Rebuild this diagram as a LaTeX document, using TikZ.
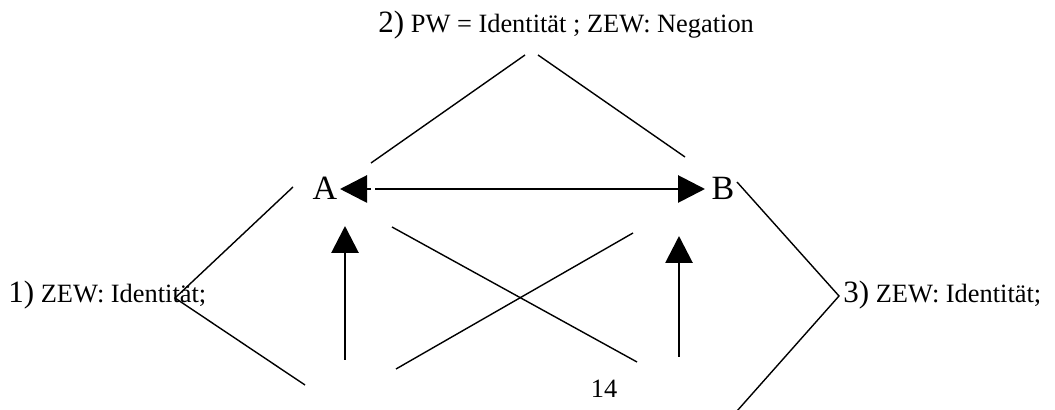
\documentclass[tikz,border=0pt]{standalone}
\usepackage{fontspec}
\setmainfont{Liberation Serif}
\usetikzlibrary{arrows.meta}
\begin{document}
\begin{tikzpicture}[x=0.5pt,y=-0.5pt,
  thin line/.style={line width=0.7pt},
  thick arrow/.style={line width=1.45pt,-{Triangle[length=13.5pt,width=13.5pt]}},
  txt/.style={inner sep=0pt,anchor=base west,font=\fontsize{13.2}{15}\selectfont},
  letter/.style={inner sep=0pt,font=\fontsize{17}{19}\selectfont}]
\useasboundingbox (0,0) rectangle (1055,410);
% labels
\node[txt] (t2) at (378,33) {{\fontsize{15.5}{17}\selectfont 2)} PW = Identität ; ZEW: Negation};
\node[txt] (t1) at (8,303) {{\fontsize{15.5}{17}\selectfont 1)} ZEW: Identität;};
\node[txt] (t3) at (843,303) {{\fontsize{15.5}{17}\selectfont 3)} ZEW: Identität;};
\node[letter,anchor=base] (A) at (325,200) {A};
\node[letter,anchor=base] (B) at (723,200) {B};
\node[txt,anchor=base] (p) at (604,398) {14};
% coordinates
\coordinate (tl1) at (525,55);  \coordinate (tl2) at (371,163);
\coordinate (tr1) at (538,55);  \coordinate (tr2) at (685,157);
\coordinate (l1) at (293,187);  \coordinate (lv) at (175,298); \coordinate (l2) at (305,385);
\coordinate (r1) at (737,182);  \coordinate (rv) at (839,296); \coordinate (r2) at (737,411);
\coordinate (c1a) at (392,227); \coordinate (c1b) at (637,362);
\coordinate (c2a) at (633,233); \coordinate (c2b) at (396,369);
\coordinate (hs) at (371,189);  \coordinate (ha) at (340,189);
\coordinate (hl) at (375,189);  \coordinate (hb) at (705,189);
\coordinate (va0) at (345,360); \coordinate (va1) at (345,226);
\coordinate (vb0) at (679,357); \coordinate (vb1) at (679,236);
% thin lines
\draw[thin line] (tl1) -- (tl2);
\draw[thin line] (tr1) -- (tr2);
\draw[thin line] (l1) -- (lv) -- (l2);
\draw[thin line] (r1) -- (rv) -- (r2);
\draw[thin line] (c1a) -- (c1b);
\draw[thin line] (c2a) -- (c2b);
% arrows
\draw[thick arrow] (hs) -- (ha);
\draw[thick arrow] (hl) -- (hb);
\draw[thick arrow] (va0) -- (va1);
\draw[thick arrow] (vb0) -- (vb1);
\end{tikzpicture}
\end{document}
